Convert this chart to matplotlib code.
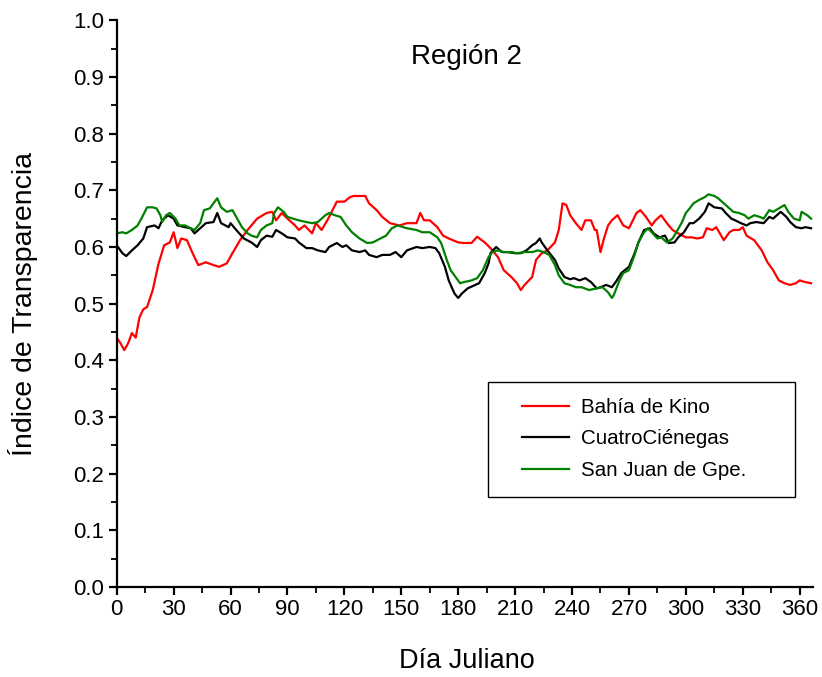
import matplotlib
matplotlib.use("Agg")
import matplotlib.pyplot as plt
from matplotlib.patches import Rectangle
from matplotlib.ticker import MultipleLocator

plt.rcParams['font.family'] = ['Liberation Sans', 'DejaVu Sans']

# Bahía de Kino
kino_dias = [0, 2, 4, 6, 8, 10, 12, 14, 16, 19, 22, 25, 28, 30, 32, 34, 37, 40, 43, 47,
             51, 54, 58, 61, 65, 69, 74, 79, 82, 84, 87, 90, 94, 96, 99, 103, 105, 108, 111, 113,
             116, 120, 123, 125, 131, 133, 137, 140, 144, 149, 153, 158, 160, 162, 165, 169, 172, 175, 180, 183,
             187, 190, 194, 197, 201, 204, 208, 211, 213, 215, 219, 221, 224, 227, 231, 233, 235, 237, 239, 242,
             245, 247, 250, 252, 253, 255, 257, 259, 261, 264, 267, 270, 274, 276, 279, 282, 284, 287, 290, 293,
             296, 300, 303, 306, 309, 311, 314, 316, 320, 323, 325, 328, 330, 332, 336, 340, 343, 346, 349, 352,
             355, 358, 360, 363, 366]
kino_ind = [0.44, 0.43, 0.418, 0.43, 0.448, 0.44, 0.476, 0.49, 0.494, 0.524, 0.57, 0.603, 0.608, 0.626, 0.598, 0.615, 0.612, 0.589, 0.568, 0.573,
            0.568, 0.565, 0.571, 0.589, 0.612, 0.63, 0.65, 0.66, 0.662, 0.647, 0.66, 0.65, 0.638, 0.63, 0.638, 0.624, 0.642, 0.63, 0.647, 0.66,
            0.68, 0.68, 0.688, 0.69, 0.69, 0.677, 0.665, 0.653, 0.642, 0.638, 0.642, 0.642, 0.66, 0.647, 0.647, 0.635, 0.62, 0.615, 0.608, 0.607,
            0.607, 0.618, 0.608, 0.598, 0.582, 0.559, 0.547, 0.536, 0.524, 0.533, 0.547, 0.577, 0.589, 0.594, 0.608, 0.63, 0.677, 0.674, 0.656, 0.642,
            0.63, 0.647, 0.647, 0.63, 0.63, 0.591, 0.617, 0.638, 0.647, 0.656, 0.638, 0.633, 0.66, 0.665, 0.653, 0.638, 0.647, 0.656, 0.642, 0.63,
            0.624, 0.617, 0.617, 0.615, 0.617, 0.633, 0.63, 0.635, 0.612, 0.626, 0.63, 0.63, 0.635, 0.62, 0.612, 0.594, 0.573, 0.559, 0.541, 0.536,
            0.533, 0.536, 0.541, 0.538, 0.536]

# CuatroCiénegas
cc_dias = [0, 3, 5, 8, 11, 14, 16, 20, 22, 24, 27, 30, 32, 36, 39, 41, 44, 47, 51, 53,
           55, 59, 60, 63, 67, 71, 74, 76, 79, 82, 84, 87, 90, 94, 96, 100, 103, 106, 110, 112,
           116, 119, 121, 124, 128, 131, 133, 137, 140, 144, 147, 150, 153, 158, 161, 165, 168, 170, 173, 175,
           178, 180, 182, 185, 189, 191, 194, 196, 197, 200, 203, 206, 210, 213, 216, 219, 221, 223, 224, 227,
           231, 233, 236, 239, 241, 244, 247, 250, 253, 255, 258, 261, 263, 266, 270, 273, 275, 278, 281, 283,
           286, 289, 291, 294, 296, 299, 302, 304, 307, 310, 312, 315, 319, 321, 324, 326, 329, 332, 334, 337,
           341, 344, 346, 350, 353, 355, 358, 361, 363, 366]
cc_ind = [0.603, 0.589, 0.584, 0.594, 0.603, 0.615, 0.635, 0.638, 0.633, 0.647, 0.656, 0.65, 0.638, 0.635, 0.633, 0.624, 0.633, 0.642, 0.644, 0.66,
          0.642, 0.635, 0.642, 0.63, 0.615, 0.608, 0.6, 0.612, 0.62, 0.618, 0.63, 0.624, 0.617, 0.615, 0.608, 0.598, 0.598, 0.594, 0.591, 0.6,
          0.607, 0.6, 0.603, 0.594, 0.591, 0.594, 0.586, 0.582, 0.586, 0.586, 0.591, 0.582, 0.594, 0.6, 0.598, 0.6, 0.598, 0.589, 0.565, 0.541,
          0.518, 0.51, 0.518, 0.527, 0.533, 0.536, 0.554, 0.571, 0.589, 0.6, 0.591, 0.591, 0.589, 0.589, 0.594, 0.603, 0.607, 0.615, 0.608, 0.594,
          0.577, 0.562, 0.547, 0.543, 0.545, 0.541, 0.545, 0.538, 0.527, 0.529, 0.533, 0.529, 0.538, 0.554, 0.565, 0.589, 0.608, 0.63, 0.633, 0.624,
          0.617, 0.62, 0.607, 0.608, 0.617, 0.626, 0.642, 0.642, 0.65, 0.662, 0.677, 0.67, 0.668, 0.66, 0.65, 0.647, 0.642, 0.638, 0.642, 0.644,
          0.642, 0.653, 0.65, 0.662, 0.653, 0.644, 0.635, 0.633, 0.635, 0.633]

# San Juan de Gpe.
sj_dias = [0, 3, 5, 8, 11, 13, 16, 19, 21, 23, 24, 26, 28, 31, 33, 36, 39, 41, 44, 46,
           49, 53, 55, 58, 61, 63, 66, 69, 71, 74, 76, 79, 82, 83, 85, 88, 90, 93, 96, 100,
           103, 106, 110, 112, 115, 118, 121, 124, 128, 132, 135, 139, 142, 145, 148, 153, 158, 161, 165, 169,
           171, 174, 176, 179, 181, 183, 187, 190, 193, 196, 198, 201, 204, 208, 211, 215, 219, 222, 225, 228,
           231, 233, 236, 239, 242, 245, 249, 253, 256, 259, 261, 262, 265, 267, 270, 273, 275, 278, 280, 282,
           285, 287, 290, 293, 295, 298, 300, 302, 304, 307, 310, 312, 315, 317, 320, 323, 325, 328, 331, 333,
           336, 339, 341, 344, 346, 349, 352, 354, 357, 360, 361, 364, 366]
sj_ind = [0.624, 0.626, 0.624, 0.63, 0.638, 0.65, 0.67, 0.67, 0.668, 0.656, 0.644, 0.656, 0.66, 0.65, 0.638, 0.638, 0.633, 0.63, 0.642, 0.665,
          0.668, 0.686, 0.67, 0.662, 0.665, 0.653, 0.635, 0.624, 0.62, 0.617, 0.63, 0.638, 0.642, 0.66, 0.67, 0.662, 0.653, 0.65, 0.647, 0.644,
          0.642, 0.644, 0.656, 0.66, 0.656, 0.653, 0.638, 0.626, 0.615, 0.607, 0.608, 0.615, 0.62, 0.633, 0.638, 0.633, 0.63, 0.626, 0.626, 0.617,
          0.607, 0.577, 0.559, 0.545, 0.536, 0.538, 0.541, 0.545, 0.559, 0.582, 0.591, 0.594, 0.591, 0.591, 0.589, 0.591, 0.591, 0.594, 0.591, 0.586,
          0.568, 0.55, 0.536, 0.533, 0.529, 0.529, 0.524, 0.527, 0.529, 0.52, 0.51, 0.515, 0.541, 0.554, 0.559, 0.586, 0.608, 0.626, 0.633, 0.626,
          0.615, 0.617, 0.608, 0.615, 0.626, 0.644, 0.66, 0.668, 0.677, 0.683, 0.688, 0.693, 0.69, 0.686, 0.677, 0.668, 0.662, 0.66, 0.656, 0.65,
          0.656, 0.653, 0.65, 0.665, 0.662, 0.668, 0.674, 0.662, 0.65, 0.647, 0.662, 0.656, 0.65]

fig = plt.figure(figsize=(8.22, 6.77), dpi=100)
ax = fig.add_axes([0.142, 0.133, 0.847, 0.837])

ax.plot(kino_dias, kino_ind, color='#ff0000', lw=1.6, label='Bahía de Kino')
ax.plot(cc_dias, cc_ind, color='black', lw=1.6, label='CuatroCiénegas')
ax.plot(sj_dias, sj_ind, color='#008000', lw=1.6, label='San Juan de Gpe.')

ax.set_xlim(0, 367)
ax.set_ylim(0, 1.0)
ax.xaxis.set_major_locator(MultipleLocator(30))
ax.xaxis.set_minor_locator(MultipleLocator(15))
ax.yaxis.set_major_locator(MultipleLocator(0.1))
ax.yaxis.set_minor_locator(MultipleLocator(0.05))
ax.yaxis.set_major_formatter(plt.FuncFormatter(lambda v, p: f"{v:.1f}"))

for s in ['top', 'right']:
    ax.spines[s].set_visible(False)
for s in ['left', 'bottom']:
    ax.spines[s].set_linewidth(1.6)
ax.tick_params(which='major', direction='out', length=6, width=1.6, labelsize=16, pad=3)
ax.tick_params(which='minor', direction='out', length=4, width=1.3)

ax.set_xlabel('Día Juliano', fontsize=19.5)
ax.xaxis.set_label_coords(0.503, -0.108)
ax.set_ylabel('Índice de Transparencia', fontsize=20.5)
ax.yaxis.set_label_coords(-0.113, 0.5)
ax.text(0.503, 0.935, 'Región 2', transform=ax.transAxes, ha='center', va='center', fontsize=20)

# legend frame drawn separately so the entries can sit off-centre inside it
ax.add_patch(Rectangle((0.5335, 0.1587), 0.4411, 0.2029, transform=ax.transAxes,
                       fill=False, edgecolor='black', lw=1.0, zorder=5))
ax.legend(loc='upper left', bbox_to_anchor=(0.582, 0.334), fontsize=14.8,
          frameon=False, handlelength=2.3, labelspacing=0.62, borderpad=0,
          handletextpad=0.55, borderaxespad=0)

fig.savefig('out.png', dpi=100)
